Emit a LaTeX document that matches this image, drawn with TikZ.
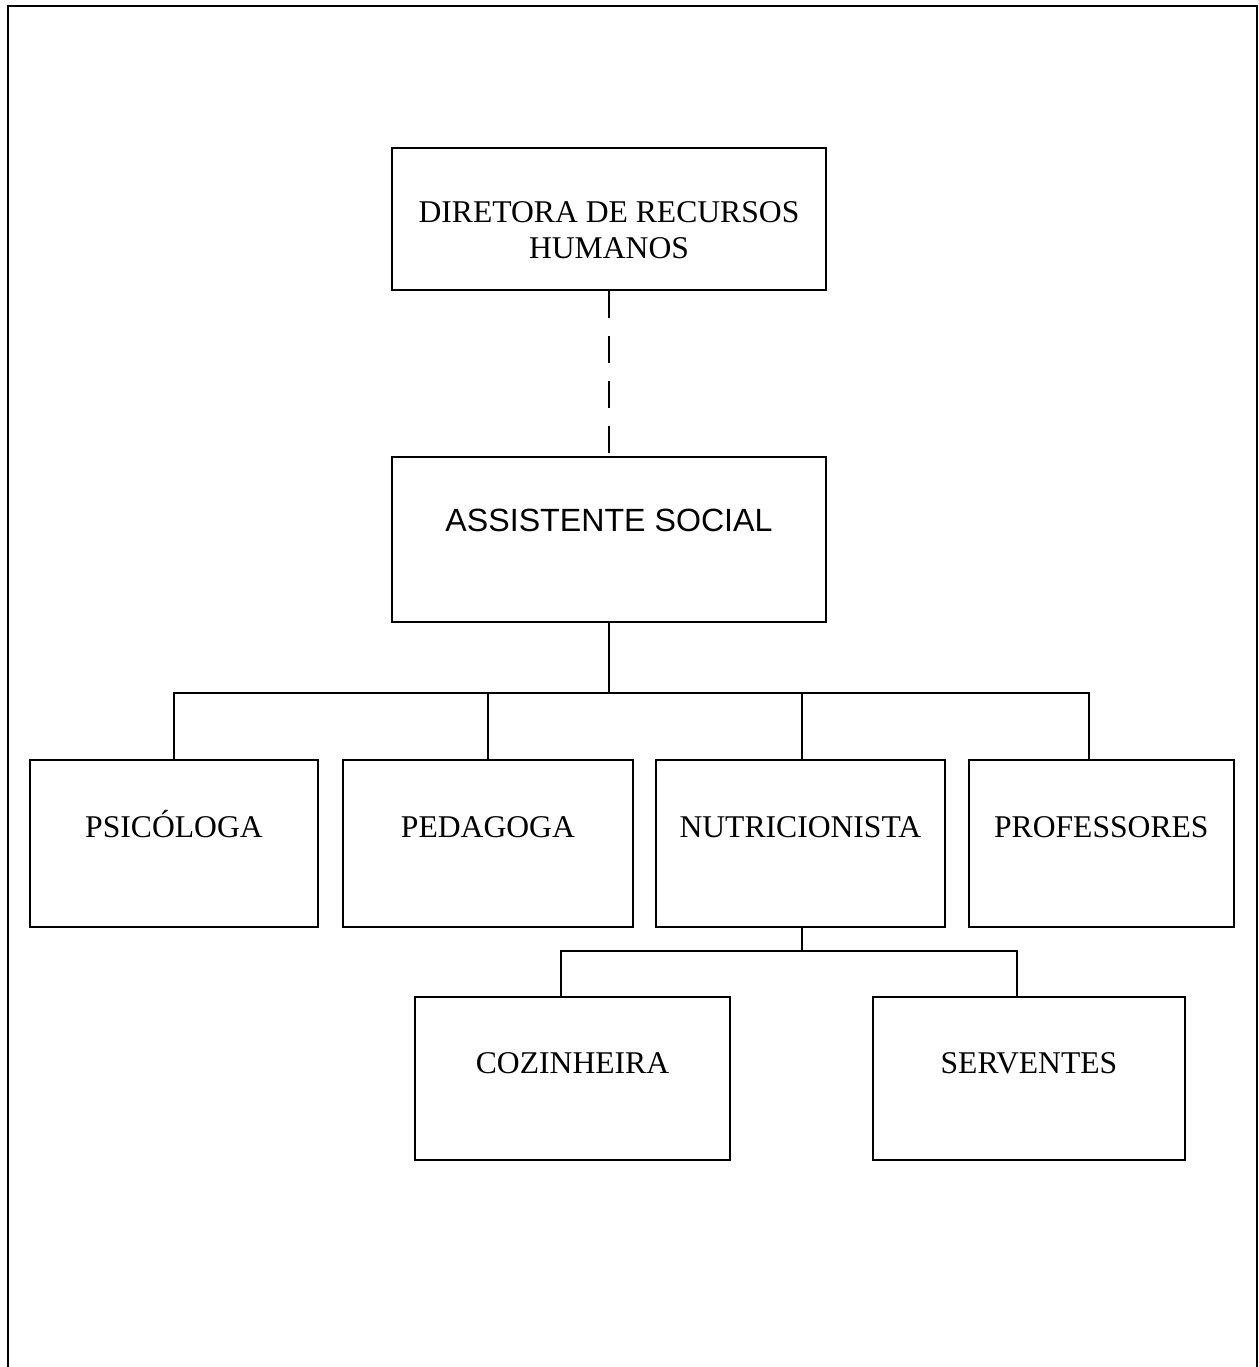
\documentclass[tikz,border=0pt]{standalone}
\usepackage{fontspec}
\setmainfont{Liberation Serif}
\newfontfamily\arialfont{Liberation Sans}
\usepackage{tikz}
\usetikzlibrary{positioning, calc}
\tikzstyle{cargo} = [rectangle, draw=black, line width=1.1pt, inner sep=0pt, align=center, font=\fontsize{18}{20}\selectfont]
\tikzstyle{linha} = [line width=1.1pt]
\tikzstyle{tracejado} = [line width=1.1pt, dash pattern=on 0.55cm off 0.35cm]

\begin{document}
\begin{tikzpicture}
  \useasboundingbox (0,0) rectangle (25.18,-27.34);
  % moldura aberta embaixo
  \draw[linha] (0.16,-27.34) |- (25.14,-0.12) -- (25.14,-27.34);

  \node[cargo, minimum width=8.68cm, text height=2.2cm, text depth=0.64cm] (dir) at (12.18,-4.38) {DIRETORA DE RECURSOS\\HUMANOS};
  \node[cargo, minimum width=8.68cm, text height=1.5cm, text depth=1.8cm, font=\arialfont\fontsize{18.3}{20}\selectfont, below=3.3cm of dir] (assist) {ASSISTENTE SOCIAL};

  \node[cargo, minimum width=5.76cm, text height=1.54cm, text depth=1.8cm] (psic) at (3.48,-16.87) {PSICÓLOGA};
  \node[cargo, minimum width=5.8cm, text height=1.54cm, text depth=1.8cm, right=0.46cm of psic] (ped) {PEDAGOGA};
  \node[cargo, minimum width=5.78cm, text height=1.54cm, text depth=1.8cm, right=0.42cm of ped] (nutri) {NUTRICIONISTA};
  \node[cargo, minimum width=5.3cm, text height=1.54cm, text depth=1.8cm, right=0.44cm of nutri] (prof) {PROFESSORES};

  \node[cargo, minimum width=6.3cm, text height=1.52cm, text depth=1.74cm] (coz) at (11.45,-21.57) {COZINHEIRA};
  \node[cargo, minimum width=6.24cm, text height=1.52cm, text depth=1.74cm, right=2.82cm of coz] (serv) {SERVENTES};

  \draw[tracejado] (dir) -- (assist);
  \draw[linha] (assist.south) -- ++(0,-1.4) -| (psic.north);
  \draw[linha] (assist.south) -- ++(0,-1.4) -| (ped.north);
  \draw[linha] (assist.south) -- ++(0,-1.4) -| ([xshift=0.03cm]nutri.north);
  \draw[linha] (assist.south) -- ++(0,-1.4) -| ([xshift=-0.25cm]prof.north);
  \draw[linha] ([xshift=0.03cm]nutri.south) -- ++(0,-0.46) -| ([xshift=-0.23cm]coz.north);
  \draw[linha] ([xshift=0.03cm]nutri.south) -- ++(0,-0.46) -| ([xshift=-0.24cm]serv.north);
\end{tikzpicture}
\end{document}
